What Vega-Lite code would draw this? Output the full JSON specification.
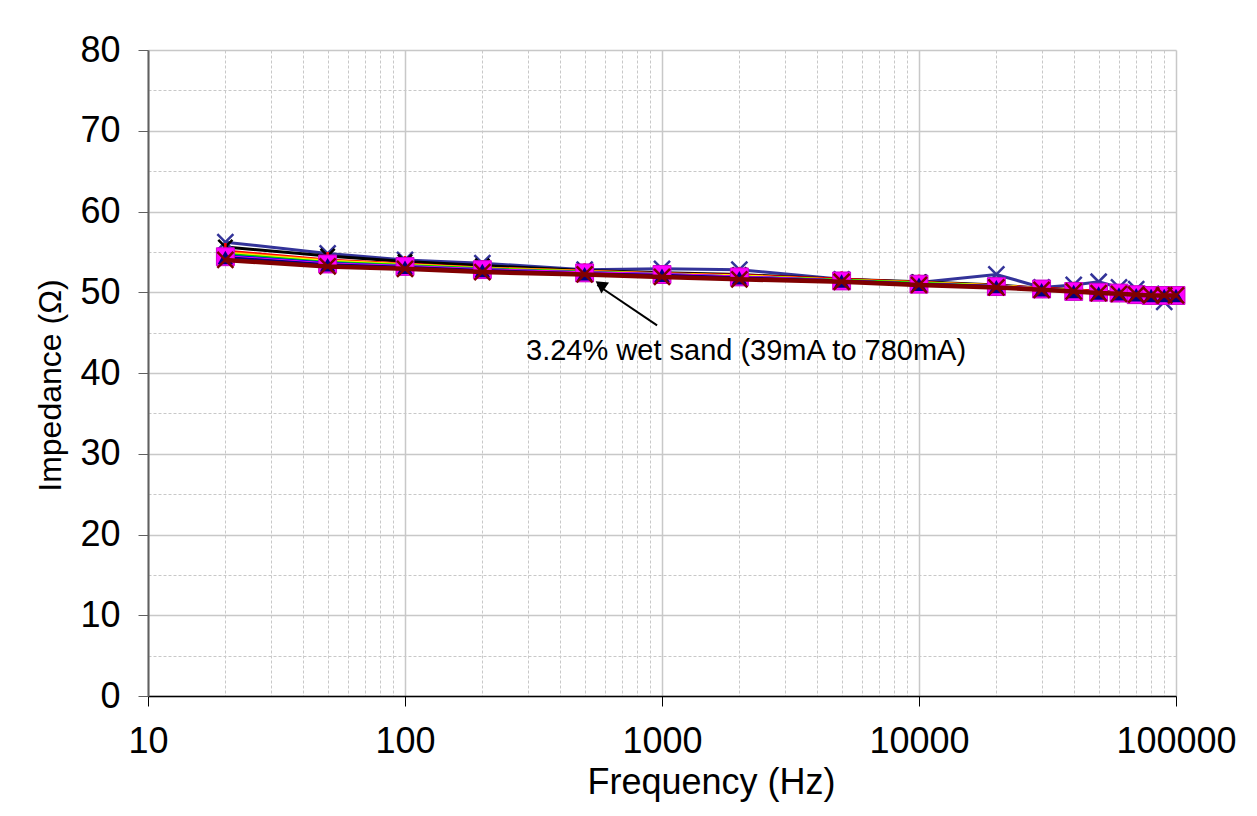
{
  "$schema": "https://vega.github.io/schema/vega-lite/v6.json",
  "autosize": "none",
  "width": 1028,
  "height": 646,
  "padding": {"left": 148, "top": 50, "right": 81, "bottom": 120},
  "background": "white",
  "config": {
    "view": {"stroke": null},
    "font": "Liberation Sans",
    "axis": {"labelFont": "Liberation Sans", "titleFont": "Liberation Sans", "labelColor": "black", "titleColor": "black", "titleFontWeight": "normal"}
  },
  "data": {"values": [
    {"series":"s1","f":20,"z":56.2},{"series":"s1","f":50,"z":54.8},{"series":"s1","f":100,"z":54.0},{"series":"s1","f":200,"z":53.6},{"series":"s1","f":500,"z":52.8},{"series":"s1","f":1000,"z":52.9},{"series":"s1","f":2000,"z":52.8},{"series":"s1","f":5000,"z":51.6},{"series":"s1","f":10000,"z":51.2},{"series":"s1","f":20000,"z":52.2},{"series":"s1","f":30000,"z":50.6},{"series":"s1","f":40000,"z":50.9},{"series":"s1","f":50000,"z":51.3},{"series":"s1","f":60000,"z":50.6},{"series":"s1","f":70000,"z":50.4},{"series":"s1","f":80000,"z":49.8},{"series":"s1","f":90000,"z":48.8},{"series":"s1","f":100000,"z":49.6},
    {"series":"s2","f":20,"z":55.6},{"series":"s2","f":50,"z":54.5},{"series":"s2","f":100,"z":53.8},{"series":"s2","f":200,"z":53.3},{"series":"s2","f":500,"z":52.7},{"series":"s2","f":1000,"z":52.4},{"series":"s2","f":2000,"z":52.2},{"series":"s2","f":5000,"z":51.6},{"series":"s2","f":10000,"z":51.3},{"series":"s2","f":20000,"z":50.9},{"series":"s2","f":30000,"z":50.5},{"series":"s2","f":40000,"z":50.3},{"series":"s2","f":50000,"z":50.1},{"series":"s2","f":60000,"z":50.0},{"series":"s2","f":70000,"z":49.9},{"series":"s2","f":80000,"z":49.8},{"series":"s2","f":90000,"z":49.7},{"series":"s2","f":100000,"z":49.7},
    {"series":"s3","f":20,"z":55.1},{"series":"s3","f":50,"z":54.0},{"series":"s3","f":100,"z":53.5},{"series":"s3","f":200,"z":53.0},{"series":"s3","f":500,"z":52.6},{"series":"s3","f":1000,"z":52.3},{"series":"s3","f":2000,"z":52.1},{"series":"s3","f":5000,"z":51.6},{"series":"s3","f":10000,"z":51.2},{"series":"s3","f":20000,"z":50.8},{"series":"s3","f":30000,"z":50.5},{"series":"s3","f":40000,"z":50.3},{"series":"s3","f":50000,"z":50.1},{"series":"s3","f":60000,"z":49.9},{"series":"s3","f":70000,"z":49.8},{"series":"s3","f":80000,"z":49.7},{"series":"s3","f":90000,"z":49.7},{"series":"s3","f":100000,"z":49.7},
    {"series":"s4","f":20,"z":54.9},{"series":"s4","f":50,"z":53.9},{"series":"s4","f":100,"z":53.4},{"series":"s4","f":200,"z":53.0},{"series":"s4","f":500,"z":52.6},{"series":"s4","f":1000,"z":52.3},{"series":"s4","f":2000,"z":52.0},{"series":"s4","f":5000,"z":51.5},{"series":"s4","f":10000,"z":51.2},{"series":"s4","f":20000,"z":50.8},{"series":"s4","f":30000,"z":50.4},{"series":"s4","f":40000,"z":50.2},{"series":"s4","f":50000,"z":50.0},{"series":"s4","f":60000,"z":49.9},{"series":"s4","f":70000,"z":49.8},{"series":"s4","f":80000,"z":49.7},{"series":"s4","f":90000,"z":49.7},{"series":"s4","f":100000,"z":49.7},
    {"series":"s5","f":20,"z":54.8},{"series":"s5","f":50,"z":53.8},{"series":"s5","f":100,"z":53.4},{"series":"s5","f":200,"z":52.9},{"series":"s5","f":500,"z":52.5},{"series":"s5","f":1000,"z":52.2},{"series":"s5","f":2000,"z":52.0},{"series":"s5","f":5000,"z":51.5},{"series":"s5","f":10000,"z":51.1},{"series":"s5","f":20000,"z":50.8},{"series":"s5","f":30000,"z":50.4},{"series":"s5","f":40000,"z":50.2},{"series":"s5","f":50000,"z":50.0},{"series":"s5","f":60000,"z":49.9},{"series":"s5","f":70000,"z":49.8},{"series":"s5","f":80000,"z":49.7},{"series":"s5","f":90000,"z":49.7},{"series":"s5","f":100000,"z":49.7},
    {"series":"s6","f":20,"z":54.7},{"series":"s6","f":50,"z":53.7},{"series":"s6","f":100,"z":53.3},{"series":"s6","f":200,"z":52.9},{"series":"s6","f":500,"z":52.5},{"series":"s6","f":1000,"z":52.2},{"series":"s6","f":2000,"z":51.9},{"series":"s6","f":5000,"z":51.5},{"series":"s6","f":10000,"z":51.1},{"series":"s6","f":20000,"z":50.7},{"series":"s6","f":30000,"z":50.4},{"series":"s6","f":40000,"z":50.2},{"series":"s6","f":50000,"z":50.0},{"series":"s6","f":60000,"z":49.9},{"series":"s6","f":70000,"z":49.8},{"series":"s6","f":80000,"z":49.7},{"series":"s6","f":90000,"z":49.6},{"series":"s6","f":100000,"z":49.6},
    {"series":"s7","f":20,"z":54.5},{"series":"s7","f":50,"z":53.6},{"series":"s7","f":100,"z":53.2},{"series":"s7","f":200,"z":52.8},{"series":"s7","f":500,"z":52.4},{"series":"s7","f":1000,"z":52.2},{"series":"s7","f":2000,"z":51.9},{"series":"s7","f":5000,"z":51.4},{"series":"s7","f":10000,"z":51.0},{"series":"s7","f":20000,"z":50.7},{"series":"s7","f":30000,"z":50.4},{"series":"s7","f":40000,"z":50.1},{"series":"s7","f":50000,"z":50.0},{"series":"s7","f":60000,"z":49.9},{"series":"s7","f":70000,"z":49.7},{"series":"s7","f":80000,"z":49.6},{"series":"s7","f":90000,"z":49.6},{"series":"s7","f":100000,"z":49.6},
    {"series":"s8","f":20,"z":54.4},{"series":"s8","f":50,"z":53.5},{"series":"s8","f":100,"z":53.2},{"series":"s8","f":200,"z":52.8},{"series":"s8","f":500,"z":52.4},{"series":"s8","f":1000,"z":52.2},{"series":"s8","f":2000,"z":51.9},{"series":"s8","f":5000,"z":51.4},{"series":"s8","f":10000,"z":51.0},{"series":"s8","f":20000,"z":50.7},{"series":"s8","f":30000,"z":50.4},{"series":"s8","f":40000,"z":50.1},{"series":"s8","f":50000,"z":50.0},{"series":"s8","f":60000,"z":49.9},{"series":"s8","f":70000,"z":49.7},{"series":"s8","f":80000,"z":49.6},{"series":"s8","f":90000,"z":49.6},{"series":"s8","f":100000,"z":49.6},
    {"series":"s9","f":20,"z":54.3},{"series":"s9","f":50,"z":53.4},{"series":"s9","f":100,"z":53.1},{"series":"s9","f":200,"z":52.7},{"series":"s9","f":500,"z":52.3},{"series":"s9","f":1000,"z":52.1},{"series":"s9","f":2000,"z":51.8},{"series":"s9","f":5000,"z":51.4},{"series":"s9","f":10000,"z":51.0},{"series":"s9","f":20000,"z":50.7},{"series":"s9","f":30000,"z":50.3},{"series":"s9","f":40000,"z":50.1},{"series":"s9","f":50000,"z":49.9},{"series":"s9","f":60000,"z":49.8},{"series":"s9","f":70000,"z":49.7},{"series":"s9","f":80000,"z":49.6},{"series":"s9","f":90000,"z":49.6},{"series":"s9","f":100000,"z":49.6},
    {"series":"s10","f":20,"z":54.0},{"series":"s10","f":50,"z":53.2},{"series":"s10","f":100,"z":52.9},{"series":"s10","f":200,"z":52.5},{"series":"s10","f":500,"z":52.2},{"series":"s10","f":1000,"z":51.9},{"series":"s10","f":2000,"z":51.6},{"series":"s10","f":5000,"z":51.3},{"series":"s10","f":10000,"z":50.9},{"series":"s10","f":20000,"z":50.6},{"series":"s10","f":30000,"z":50.3},{"series":"s10","f":40000,"z":50.1},{"series":"s10","f":50000,"z":49.9},{"series":"s10","f":60000,"z":49.8},{"series":"s10","f":70000,"z":49.7},{"series":"s10","f":80000,"z":49.6},{"series":"s10","f":90000,"z":49.6},{"series":"s10","f":100000,"z":49.6}
  ]},
  "encoding": {
    "x": {
      "field": "f", "type": "quantitative",
      "scale": {"type": "log", "domain": [10, 100000], "nice": false},
      "axis": {
        "title": "Frequency (Hz)",
        "titleFontSize": 36, "labelFontSize": 36,
        "titlePadding": 6,
        "titleX": 563,
        "titleAlign": "center",
        "values": [10,20,30,40,50,60,70,80,90,100,200,300,400,500,600,700,800,900,1000,2000,3000,4000,5000,6000,7000,8000,9000,10000,20000,30000,40000,50000,60000,70000,80000,90000,100000],
        "format": "d",
        "labelExpr": "indexof([10,100,1000,10000,100000], datum.value) >= 0 ? datum.label : ''",
        "labelPadding": 18,
        "labelFlush": false,
        "labelOverlap": false,
        "tickSize": 10,
        "tickColor": "black",
        "tickOpacity": {"condition": {"test": "indexof([10,100,1000,10000,100000], datum.value) < 0", "value": 0}, "value": 1},
        "domainColor": "black",
        "domainWidth": 1.5,
        "grid": true,
        "gridColor": "#c8c8c8",
        "gridWidth": {"condition": {"test": "indexof([10,100,1000,10000,100000], datum.value) >= 0", "value": 1.5}, "value": 1},
        "gridDash": {"condition": {"test": "indexof([10,100,1000,10000,100000], datum.value) >= 0", "value": []}, "value": [3, 2]}
      }
    },
    "y": {
      "field": "z", "type": "quantitative",
      "scale": {"domain": [0, 80], "nice": false},
      "axis": {
        "title": "Impedance (Ω)",
        "titleFontSize": 32, "labelFontSize": 36,
        "titlePadding": 12,
        "titleY": 335,
        "values": [0,5,10,15,20,25,30,35,40,45,50,55,60,65,70,75,80],
        "labelExpr": "datum.value % 10 === 0 ? datum.label : ''",
        "labelPadding": 18,
        "labelFlush": false,
        "labelOverlap": false,
        "tickSize": 10,
        "tickColor": "#606060",
        "tickOpacity": {"condition": {"test": "datum.value % 10 !== 0", "value": 0}, "value": 1},
        "domainColor": "#606060",
        "domainWidth": 2,
        "grid": true,
        "gridColor": "#c8c8c8",
        "gridWidth": {"condition": {"test": "datum.value % 10 === 0", "value": 1.5}, "value": 1},
        "gridDash": {"condition": {"test": "datum.value % 10 === 0", "value": []}, "value": [3, 2]}
      }
    }
  },
  "layer": [
    {
      "transform": [{"filter": "datum.series !== 's10'"}],
      "mark": {"type": "line", "strokeWidth": 3},
      "encoding": {
        "color": {"field": "series", "type": "nominal", "legend": null,
          "scale": {"domain": ["s1","s2","s3","s4","s5","s6","s7","s8","s9"],
                    "range": ["#333399","#000000","#FF0000","#FF9900","#FFFF00","#00CC00","#0000FF","#FF00FF","#000080"]}},
        "order": {"field": "f", "type": "quantitative"}
      }
    },
    {
      "transform": [{"filter": "datum.series === 's1'"}],
      "mark": {"type": "point", "shape": "M-1,-1L1,1M-1,1L1,-1", "filled": false, "stroke": "#333399", "strokeWidth": 2.5, "size": 256, "opacity": 1}
    },
    {
      "transform": [{"filter": "datum.series === 's2'"}],
      "mark": {"type": "point", "shape": "M-1,-1L1,1M-1,1L1,-1", "filled": false, "stroke": "#000000", "strokeWidth": 2.5, "size": 200, "opacity": 1}
    },
    {
      "transform": [{"filter": "datum.series === 's3'"}],
      "mark": {"type": "point", "shape": "M-1,0L1,0M0,-1L0,1", "filled": false, "stroke": "#FF0000", "strokeWidth": 2.5, "size": 256, "opacity": 1}
    },
    {
      "transform": [{"filter": "datum.series === 's8'"}],
      "mark": {"type": "point", "shape": "square", "filled": true, "fill": "#FF00FF", "stroke": "#CC00CC", "strokeWidth": 1, "size": 320, "opacity": 1}
    },
    {
      "transform": [{"filter": "datum.series === 's9'"}],
      "mark": {"type": "point", "shape": "triangle-up", "filled": true, "fill": "#000080", "size": 240, "opacity": 1}
    },
    {
      "transform": [{"filter": "datum.series === 's10'"}],
      "mark": {"type": "line", "stroke": "#800000", "strokeWidth": 4.5},
      "encoding": {"order": {"field": "f", "type": "quantitative"}}
    },
    {
      "transform": [{"filter": "datum.series === 's10'"}],
      "mark": {"type": "point", "shape": "M-1,-1L1,1M-1,1L1,-1", "filled": false, "stroke": "#800000", "strokeWidth": 2.5, "size": 256, "opacity": 1}
    },
    {
      "data": {"values": [{"x1": 957, "y1": 45.9, "x2": 560, "y2": 50.9}]},
      "mark": {"type": "rule", "color": "black", "strokeWidth": 2},
      "encoding": {
        "x": {"field": "x1", "type": "quantitative"},
        "y": {"field": "y1", "type": "quantitative"},
        "x2": {"field": "x2"},
        "y2": {"field": "y2"}
      }
    },
    {
      "data": {"values": [{"x": 576, "y": 50.95}]},
      "mark": {"type": "point", "shape": "triangle-up", "filled": true, "fill": "black", "size": 180, "angle": 305, "opacity": 1},
      "encoding": {
        "x": {"field": "x", "type": "quantitative"},
        "y": {"field": "y", "type": "quantitative"}
      }
    },
    {
      "data": {"values": [{"x": 2124, "y": 41.6, "label": "3.24% wet sand (39mA to 780mA)"}]},
      "mark": {"type": "text", "align": "center", "baseline": "alphabetic", "fontSize": 29, "font": "Liberation Sans", "color": "black"},
      "encoding": {
        "x": {"field": "x", "type": "quantitative"},
        "y": {"field": "y", "type": "quantitative"},
        "text": {"field": "label"}
      }
    }
  ]
}
